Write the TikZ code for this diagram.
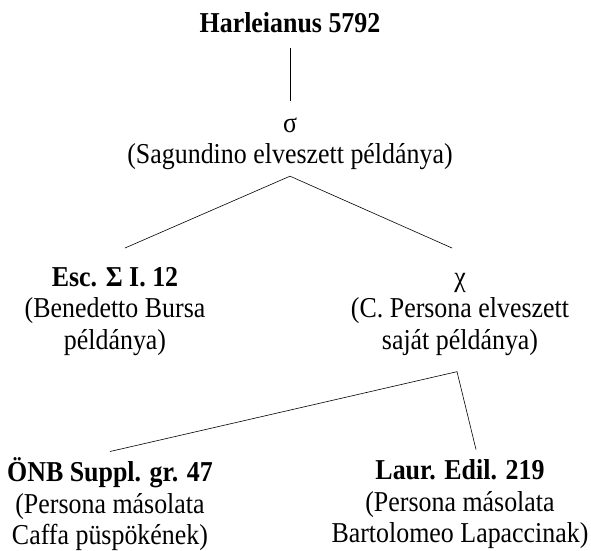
\documentclass[tikz,border=0pt]{standalone}
\usepackage{fontspec}
\setmainfont{Liberation Serif}[FakeStretch=0.9]
\usepackage{tikz}
\usetikzlibrary{calc}
\tikzset{
    witness/.style={
        align=center, inner sep=0pt, anchor=north,
        font=\fontsize{28.8}{31.5}\selectfont
    },
    stemma/.style={line width=0.6pt},
}

\begin{document}
\begin{tikzpicture}[x=1pt, y=-1pt]
    \useasboundingbox (0,0) rectangle (591,550);
    % manuscripts
    \node[witness] (harl) at (290,10) {\strut\textbf{Harleianus 5792}};
    \node[witness] (sigma) at (290,110) {\strut σ\\(Sagundino elveszett példánya)};
    \node[witness] (esc) at (115,264) {%
        \strut\textbf{Esc. Σ I. 12}\\(Benedetto Bursa\\példánya)};
    \node[witness] (chi) at (460,264) {%
        \strut χ\\(C. Persona elveszett\\saját példánya)};
    \node[witness] (onb) at (110,457.5) {%
        \strut\textbf{ÖNB Suppl. gr. 47}\\(Persona másolata\\Caffa püspökének)};
    \node[witness] (laur) at (460,457.5) {%
        \strut\textbf{Laur. Edil. 219}\\(Persona másolata\\Bartolomeo Lapaccinak)};
    % branches
    \coordinate (forksigma) at ([yshift=-6pt]sigma.south);
    \coordinate (forkchi) at ([xshift=-3pt, yshift=-16pt]chi.south);
    \draw[stemma] ([yshift=-6pt]harl.south) -- ([yshift=9pt]sigma.north);
    \draw[stemma] ([xshift=10pt, yshift=16pt]esc.north) -- (forksigma)
        -- ([xshift=-8pt, yshift=16pt]chi.north);
    \draw[stemma] ([yshift=6pt]onb.north) -- (forkchi)
        -- ([xshift=16pt, yshift=8pt]laur.north);
\end{tikzpicture}
\end{document}
